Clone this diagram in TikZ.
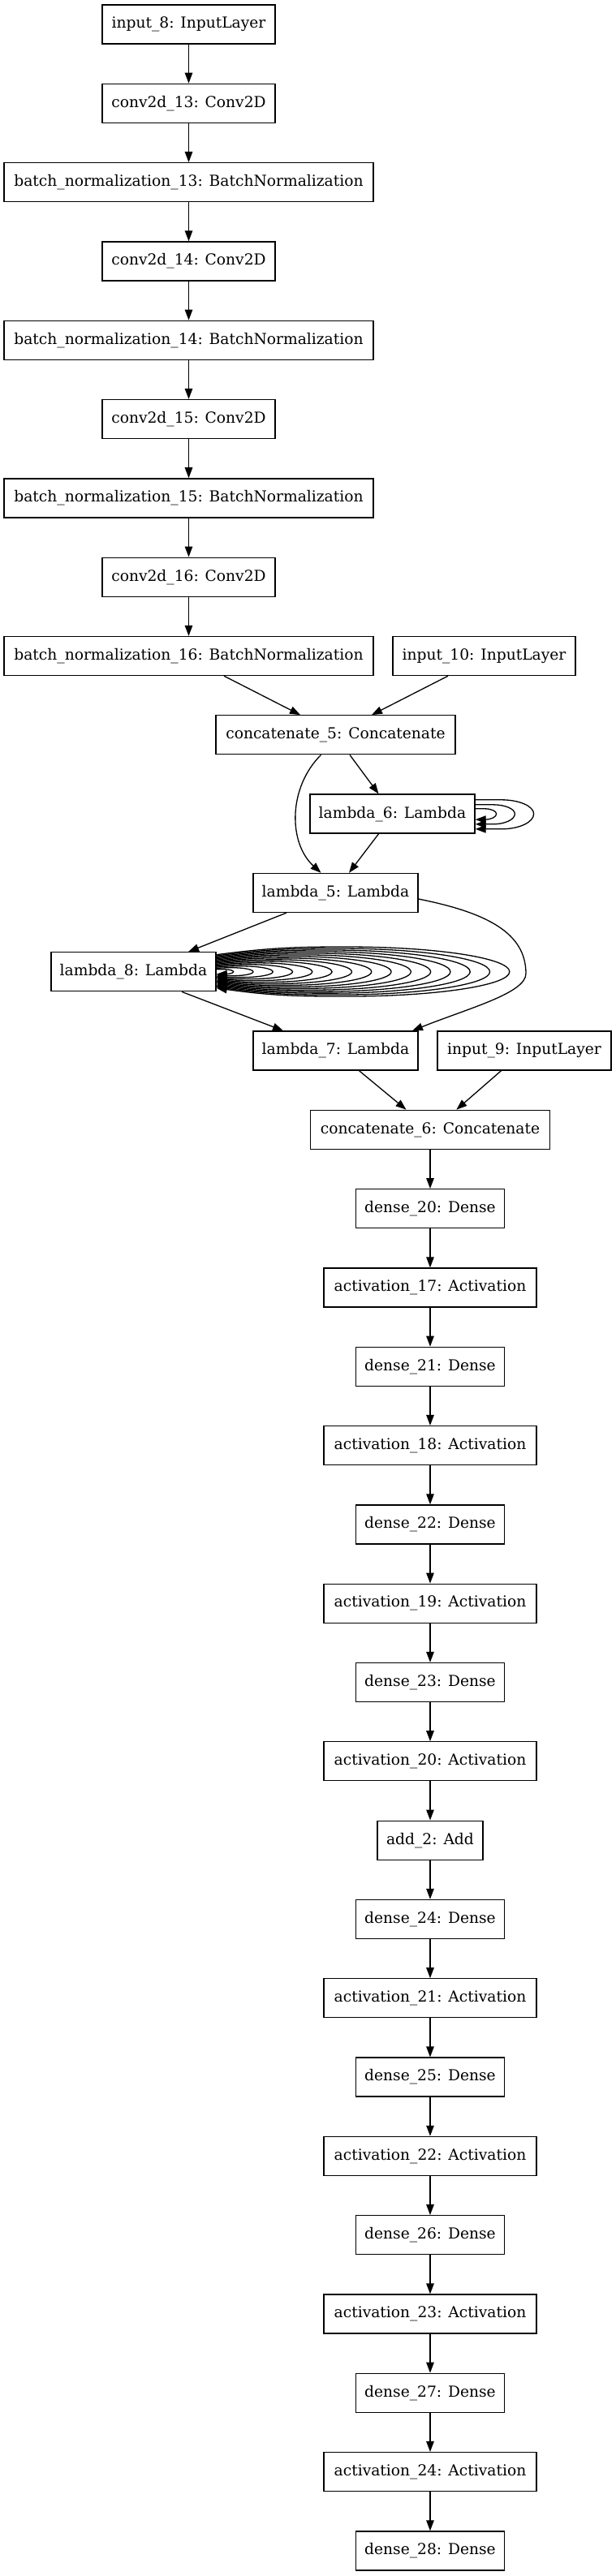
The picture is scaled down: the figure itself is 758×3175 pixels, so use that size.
\documentclass[tikz,border=0pt]{standalone}
\usepackage{fontspec}
\setmainfont{DejaVu Serif}
\usetikzlibrary{arrows.meta}
\newcommand\gvloop[6]{\draw[edge, shift={(#1.east)}] (0,{-#3}) .. controls ({0.2*#2},{-#4}) and ({0.3*#2},{-#4}) .. ({0.45*#2},{-#4}) .. controls ({0.75*#2},{-#4}) and ({#2},{-0.55*#4}) .. ({#2},0) .. controls ({#2},{0.55*#6}) and ({0.75*#2},{#6}) .. ({0.45*#2},{#6}) .. controls ({0.3*#2},{#6}) and ({0.2*#2},{#6}) .. (0,{#5});}
\begin{document}
\begin{tikzpicture}[x=1pt,y=-1pt,
  box/.style={draw, line width=1.3pt, minimum height=48pt, inner sep=0pt, font=\fontsize{18.67}{22}\selectfont},
  edge/.style={line width=1.3pt, -{Triangle[length=13pt,width=9.5pt]}},
  wconv/.style={box, minimum width=213pt},
  wbn/.style={box, minimum width=455pt},
  wlam/.style={box, minimum width=203pt},
  wcat/.style={box, minimum width=295pt},
  wdense/.style={box, minimum width=183pt},
  wact/.style={box, minimum width=262pt}]
\fill[white] (0,0) rectangle (758,3175);
\useasboundingbox (0,0) rectangle (758,3175);
% upper column
\node[wconv] (in8) at (232.5,30) {input\_8: InputLayer};
\node[wconv] (cv13) at (232.5,127.31) {conv2d\_13: Conv2D};
\node[wbn] (bn13) at (232.5,224.62) {batch\_normalization\_13: BatchNormalization};
\node[wconv] (cv14) at (232.5,321.93) {conv2d\_14: Conv2D};
\node[wbn] (bn14) at (232.5,419.24) {batch\_normalization\_14: BatchNormalization};
\node[wconv] (cv15) at (232.5,516.55) {conv2d\_15: Conv2D};
\node[wbn] (bn15) at (232.5,613.86) {batch\_normalization\_15: BatchNormalization};
\node[wconv] (cv16) at (232.5,711.17) {conv2d\_16: Conv2D};
\node[wbn] (bn16) at (232.5,808.48) {batch\_normalization\_16: BatchNormalization};
\node[box, minimum width=225pt] (in10) at (596.5,808.48) {input\_10: InputLayer};
\node[wcat] (c5) at (413.5,905.79) {concatenate\_5: Concatenate};
\node[wlam] (l6) at (483.5,1003.1) {lambda\_6: Lambda};
\node[wlam] (l5) at (413.5,1100.41) {lambda\_5: Lambda};
\node[wlam] (l8) at (164.5,1197.72) {lambda\_8: Lambda};
\node[wlam] (l7) at (413.5,1295.03) {lambda\_7: Lambda};
\node[box, minimum width=214pt] (in9) at (646,1295.03) {input\_9: InputLayer};
\node[wcat] (c6) at (530,1392.34) {concatenate\_6: Concatenate};
% lower column
\node[wdense] (d20) at (530,1489.65) {dense\_20: Dense};
\node[wact] (a17) at (530,1586.96) {activation\_17: Activation};
\node[wdense] (d21) at (530,1684.27) {dense\_21: Dense};
\node[wact] (a18) at (530,1781.58) {activation\_18: Activation};
\node[wdense] (d22) at (530,1878.89) {dense\_22: Dense};
\node[wact] (a19) at (530,1976.2) {activation\_19: Activation};
\node[wdense] (d23) at (530,2073.51) {dense\_23: Dense};
\node[wact] (a20) at (530,2170.82) {activation\_20: Activation};
\node[box, minimum width=130pt] (add2) at (530,2268.13) {add\_2: Add};
\node[wdense] (d24) at (530,2365.44) {dense\_24: Dense};
\node[wact] (a21) at (530,2462.75) {activation\_21: Activation};
\node[wdense] (d25) at (530,2560.06) {dense\_25: Dense};
\node[wact] (a22) at (530,2657.37) {activation\_22: Activation};
\node[wdense] (d26) at (530,2754.68) {dense\_26: Dense};
\node[wact] (a23) at (530,2851.99) {activation\_23: Activation};
\node[wdense] (d27) at (530,2949.3) {dense\_27: Dense};
\node[wact] (a24) at (530,3046.61) {activation\_24: Activation};
\node[wdense] (d28) at (530,3143.92) {dense\_28: Dense};
% straight chains
\foreach \a/\b in {in8/cv13,cv13/bn13,bn13/cv14,cv14/bn14,bn14/cv15,cv15/bn15,bn15/cv16,cv16/bn16,
  c6/d20,d20/a17,a17/d21,d21/a18,a18/d22,d22/a19,a19/d23,d23/a20,a20/add2,add2/d24,d24/a21,a21/d25,d25/a22,a22/d26,d26/a23,a23/d27,d27/a24,a24/d28}
  \draw[edge] (\a) -- (\b);
% merge region
\draw[edge] ([xshift=43.5pt]bn16.south) -- ([xshift=-43.5pt]c5.north);
\draw[edge] ([xshift=-44.5pt]in10.south) -- ([xshift=44.5pt]c5.north);
\draw[edge] ([xshift=17.5pt]c5.south) -- ([xshift=-17pt]l6.north);
\draw[edge] ([xshift=-18pt]c5.south) .. controls +(-40.5,40) and +(-40.5,-37) .. ([xshift=-18pt]l5.north);
\draw[edge] ([xshift=-17pt]l6.south) -- ([xshift=16.5pt]l5.north);
\draw[edge] ([xshift=-60.5pt]l5.south) -- ([xshift=67.5pt]l8.north);
\draw[edge] ([xshift=59.5pt]l8.south) -- ([xshift=-64.5pt]l7.north);
\coordinate (b57) at (648,1200);
\draw[edge] ([yshift=-7.6pt]l5.east) .. controls +(85,17) and +(0,-50) .. (b57) .. controls +(0,24) and +(70,-28) .. ([xshift=94.5pt]l7.north);
\draw[edge] ([xshift=29pt]l7.south) -- ([xshift=-29.5pt]c6.north);
\draw[edge] ([xshift=-28.5pt]in9.south) -- ([xshift=32.4pt]c6.north);
% self loops on lambda_6
\gvloop{l6}{26}{6.3}{6.3}{7}{7}
\gvloop{l6}{48.7}{11.3}{11.3}{12.7}{12.7}
\gvloop{l6}{72}{17.3}{17.3}{18.7}{18.7}
% self loops on lambda_8
\foreach \k in {0,...,14} {
  \pgfmathsetmacro\dx{21+24.3*\k}
  \pgfmathsetmacro\s{3+18*\k/14}
  \pgfmathsetmacro\h{3+27.7*\k/14}
  \pgfmathsetmacro\e{3+17*\k/14}
  \pgfmathsetmacro\hb{3+27.3*\k/14}
  \gvloop{l8}{\dx}{\s}{\h}{\e}{\hb}
}
\end{tikzpicture}
\end{document}
